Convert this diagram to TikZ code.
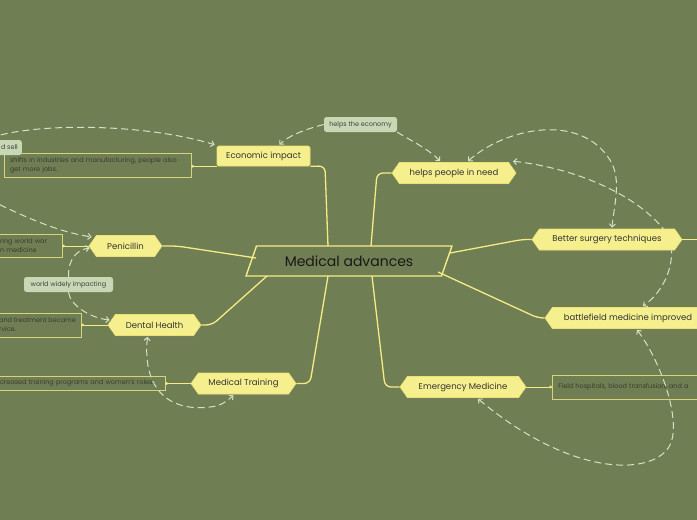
\documentclass[tikz,border=0pt]{standalone}
\usepackage{fontspec}
\setmainfont{Poppins}
\usepackage{tikz}
\usetikzlibrary{shapes.geometric,shapes.symbols,arrows.meta,calc,backgrounds,shadows}
\definecolor{bgolive}{RGB}{112,126,84}
\definecolor{topicfill}{RGB}{246,239,142}
\definecolor{topicedge}{RGB}{236,226,112}
\definecolor{linkyellow}{RGB}{245,236,134}
\definecolor{noteedge}{RGB}{214,212,122}
\definecolor{notetext}{RGB}{58,60,44}
\definecolor{labelfill}{RGB}{200,216,180}
\definecolor{reldash}{RGB}{214,226,200}
\newcommand{\tipboth}{{Straight Barb[length=3pt,width=6pt]}-{Straight Barb[length=3pt,width=6pt]}}
\newcommand{\tipend}{-{Straight Barb[length=3pt,width=6pt]}}

\begin{document}
\begin{tikzpicture}[x=1pt,y=-1pt,
    topic/.style={signal, signal to=west and east, signal pointer angle=110,
      fill=topicfill, draw=topicedge, line width=0.6pt, text=black!80,
      font=\fontsize{8.5}{10}\selectfont, minimum height=21pt, inner xsep=2pt,
      drop shadow={shadow xshift=0.4pt, shadow yshift=-1.4pt, opacity=0.25}},
    topicbox/.style={rectangle, rounded corners=1.5pt, fill=topicfill, draw=topicedge,
      line width=0.6pt, text=black!80, font=\fontsize{8.5}{10}\selectfont,
      minimum height=20pt, drop shadow={shadow xshift=0.4pt, shadow yshift=-1.4pt, opacity=0.25}},
    notebox/.style={rectangle, draw=noteedge, line width=0.8pt, text=notetext,
      font=\fontsize{6.5}{9}\selectfont, align=left, inner xsep=6pt, inner ysep=1pt},
    rellabel/.style={rectangle, rounded corners=2.5pt, fill=labelfill, text=black!75,
      font=\fontsize{6.5}{8}\selectfont, minimum height=15pt, inner xsep=4pt},
    link/.style={draw=linkyellow, line width=1.3pt, rounded corners=6pt},
    notelink/.style={draw=linkyellow, line width=0.8pt, -{Circle[length=2.6pt]}},
    rel/.style={draw=reldash, line width=1pt, dash pattern=on 7pt off 4pt}]
  \useasboundingbox (0,0) rectangle (697,520);

  % main topic
  \node[trapezium, trapezium left angle=59, trapezium right angle=121, trapezium stretches body,
    draw=linkyellow, line width=1.4pt, minimum width=206pt, minimum height=30pt,
    font=\fontsize{14}{16}\selectfont, text=black!90] (medadv) at (349,261) {Medical advances};

  % subtopics
  \node[topicbox, minimum width=93pt] (econ) at (263.5,156) {Economic impact};
  \node[topic, minimum width=124pt] (helps) at (454,173) {helps people in need};
  \node[topic, minimum width=73pt] (pen) at (125.5,246) {Penicillin};
  \node[topic, minimum width=93pt] (dent) at (154.5,325) {Dental Health};
  \node[topic, minimum width=105pt] (train) at (243.5,383.5) {Medical Training};
  \node[topic, minimum width=150pt] (surg) at (607,239.5) {Better surgery techniques};
  \node[topic, minimum width=166pt] (battle) at (628,318) {battlefield medicine improved};
  \node[topic, minimum width=126pt] (emerg) at (463,387) {Emergency Medicine};

  % notes
  \node[notebox, text width=175pt, minimum height=24pt] (econnote) at (97.5,165)
    {shifts in industries and manufacturing, people also\\get more jobs.};
  \node[notebox, text width=56pt, minimum height=23pt] (pennote) at (28,245.5)
    {ring world war\\n medicine};
  \node[notebox, minimum width=87pt, minimum height=24pt, inner xsep=2pt] (dentnote) at (37.5,325)
    {and treatment became\\rvice.};
  \node[notebox, text width=159pt, minimum height=14pt] (trainnote) at (79.5,383)
    {creased training programs and women's roles.};
  \node[notebox, text width=200pt, minimum height=24pt, anchor=west] (emergnote) at (552,387)
    {Field hospitals, blood transfusion, and a};

  % relation labels
  \node[rellabel, minimum width=73pt] (econlab) at (360.5,124.5) {helps the economy};
  \node[rellabel, minimum width=89pt] (wwlab) at (68.5,284.5) {world widely impacting};
  \node[rellabel, anchor=east] (dsell) at (22,147.5) {d sell};
  \coordinate (offleft1) at (-20,142);
  \coordinate (offleft2) at (-20,195);
  \coordinate (surgout) at (700,239.5);

  % branches
  \draw[link] ($(medadv)+(-21,-15)$) -- (325,166) -- (econ.south east);
  \draw[link] ($(medadv)+(22,-15)$) -- (377,173) -- (helps.west);
  \draw[link] ($(medadv)+(-93,-3)$) -- (177,246) -- (pen.east);
  \draw[link] ($(medadv)+(-82,15)$) -- (212,325) -- (dent.east);
  \draw[link] ($(medadv)+(-21,15)$) -- (310,383.5) -- (train.east);
  \draw[link] ($(medadv)+(23,15)$) -- (385,387) -- (emerg.west);
  \draw[link] ($(medadv)+(101,-8)$) -- (522,239.5) -- (surg.west);
  \draw[link] ($(medadv)+(89,11)$) -- (538,318) -- (battle.west);
  \draw[link] (surg.east) -- (surgout);

  \draw[notelink] (econ.south west) -- (econ.south west -| econnote.east);
  \draw[notelink] (pen.west) -- (pen.west -| pennote.east);
  \draw[notelink] (dent.west) -- (dent.west -| dentnote.east);
  \draw[notelink] (train.west) -- (train.west -| trainnote.east);
  \draw[notelink] (emerg.east) -- (emerg.east -| emergnote.west);

  \begin{scope}[on background layer]
    \fill[bgolive] (-30,-30) rectangle (730,550);
    % relations
    \draw[rel,\tipend] (offleft1) .. controls (20,122) and (140,122) .. ($(econ.north west)+(-2,-1)$);
    \draw[rel,\tipend] (econlab.west) .. controls (302,130) and (287,137) .. ($(econ.north)+(16,-1)$);
    \draw[rel,\tipend] (econlab.south east) .. controls (410,140) and (430,150) .. ($(helps.north)+(-14,-1)$);
    \draw[rel,\tipboth] ($(helps.north)+(14,-1)$) .. controls (505,128) and (580,112) .. (610,160)
      .. controls (622,179) and (614,205) .. ($(surg.north)+(5,-1)$);
    \draw[rel,\tipboth] ($(helps.north)+(59,-1)$) .. controls (575,168) and (640,195) .. (668,235)
      .. controls (676,250) and (672,285) .. ($(battle.north)+(15,-1)$);
    \draw[rel,\tipboth] ($(battle.south)+(9,1)$) .. controls (660,360) and (682,420) .. (670,445)
      .. controls (655,475) and (575,480) .. ($(emerg.south)+(15,1)$);
    \draw[rel,\tipend] (offleft2) .. controls (30,220) and (60,232) .. ($(pen.west)+(3,-9)$);
    \draw[rel,\tipend] (wwlab.north) .. controls (68,260) and (76,250) .. ($(pen.west)+(1,2)$);
    \draw[rel,\tipend] (wwlab.south) .. controls (70,305) and (90,318) .. ($(dent.west)+(2,-5)$);
    \draw[rel,\tipboth] ($(dent.south)+(-7,1)$) .. controls (142,390) and (170,412) .. (210,407)
      .. controls (222,406) and (228,400) .. ($(train.south)+(-10,1)$);
  \end{scope}
\end{tikzpicture}
\end{document}
